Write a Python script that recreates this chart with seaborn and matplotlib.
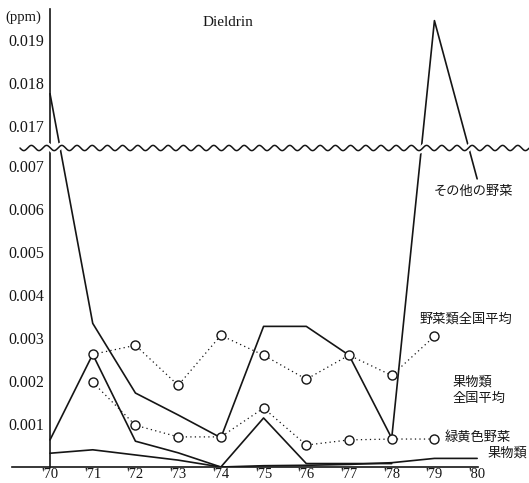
import numpy as np
import pandas as pd
import matplotlib
matplotlib.use("Agg")
import matplotlib.pyplot as plt
import seaborn as sns

sns.set_style("white")
plt.rcParams["font.family"] = ["Liberation Serif", "Noto Sans CJK JP"]

# ---- data (ppm) ----
years = [1970, 1971, 1972, 1973, 1974, 1975, 1976, 1977, 1978, 1979, 1980]
year_labels = ["'70", "'71", "'72", "'73", "'74", "'75", "'76", "'77", "'78", "'79", "'80"]

other_veg = [0.01774, 0.00334, 0.00172, 0.00121, 0.00068, 0.00327, 0.00327, 0.00260, 0.00067, 0.01944, 0.00670]

veg_nat_years = [1971, 1972, 1973, 1974, 1975, 1976, 1977, 1978, 1979]
veg_nat_avg = [0.00262, 0.00283, 0.00190, 0.00306, 0.00260, 0.00204, 0.00260, 0.00213, 0.00304]

gy_years = [1971, 1972, 1973, 1974, 1975, 1976, 1977, 1978, 1979]
green_yellow = [0.00197, 0.00097, 0.00070, 0.00070, 0.00137, 0.00051, 0.00063, 0.00065, 0.00065]

fruit_nat_years = [1970, 1971, 1972, 1973, 1974, 1975, 1976, 1977, 1978]
fruit_nat_avg = [0.00063, 0.00262, 0.00060, 0.00033, 0.0, 0.00114, 0.00008, 0.00008, 0.00008]

fruit = [0.00032, 0.00040, 0.00028, 0.00016, 0.0, 0.00003, 0.00004, 0.00006, 0.00010, 0.00020, 0.00020]

yticks = [0.001, 0.002, 0.003, 0.004, 0.005, 0.006, 0.007, 0.017, 0.018, 0.019]

# ---- broken y scale: 0.00742 .. 0.01648 is cut out ----
LOW_BREAK = 0.00742
HIGH_BREAK = 0.01648
GAP = HIGH_BREAK - LOW_BREAK


def fwd(y):
    y = np.asarray(y, dtype=float)
    return np.where(y >= HIGH_BREAK, y - GAP, np.minimum(y, LOW_BREAK))


def inv(y):
    y = np.asarray(y, dtype=float)
    return np.where(y > LOW_BREAK, y + GAP, y)


W, H = 529, 483
AX_TOP, AX_BOTTOM = 9, 467
fig = plt.figure(figsize=(W / 100, H / 100), dpi=100)
ax = fig.add_axes([12 / W, (H - AX_BOTTOM) / H, (478 - 12) / W, (AX_BOTTOM - AX_TOP) / H])
ax.set_yscale("function", functions=(fwd, inv))

ink = "#151515"

df_other = pd.DataFrame({"year": years, "ppm": other_veg})
df_fruit = pd.DataFrame({"year": years, "ppm": fruit})
df_fnat = pd.DataFrame({"year": fruit_nat_years, "ppm": fruit_nat_avg})
df_vnat = pd.DataFrame({"year": veg_nat_years, "ppm": veg_nat_avg})
df_gy = pd.DataFrame({"year": gy_years, "ppm": green_yellow})

solid_kw = dict(color=ink, linewidth=1.2, estimator=None, legend=False)
sns.lineplot(data=df_other, x="year", y="ppm", ax=ax, **solid_kw)
sns.lineplot(data=df_fnat, x="year", y="ppm", ax=ax, **solid_kw)
sns.lineplot(data=df_fruit, x="year", y="ppm", ax=ax, **solid_kw)

dot_kw = dict(color=ink, linewidth=0.9, estimator=None, legend=False,
              marker="o", markersize=6.5, markerfacecolor="white",
              markeredgecolor=ink, markeredgewidth=1.0, dashes=False)
for d in (df_vnat, df_gy):
    ln = sns.lineplot(data=d, x="year", y="ppm", ax=ax, **dot_kw).lines[-1]
    ln.set_linestyle((0, (1, 2.6)))

ax.set_xlim(1969.11, 1980.02)
ax.set_ylim(0, 0.01971)
ax.set_xticks(years)
ax.set_xticklabels(year_labels)
ax.set_yticks(yticks)
ax.set_yticklabels([f"{v:.3f}" for v in yticks])
ax.yaxis.set_minor_locator(matplotlib.ticker.NullLocator())
ax.tick_params(axis="both", length=0, colors=ink)
ax.tick_params(axis="y", pad=4, labelsize=11.5)
ax.tick_params(axis="x", pad=1, labelsize=10.5)
ax.set_xlabel("")
ax.set_ylabel("")

for s in ("top", "right"):
    ax.spines[s].set_visible(False)
ax.spines["left"].set_position(("data", 1970))
for s in ("left", "bottom"):
    ax.spines[s].set_color(ink)
    ax.spines[s].set_linewidth(1.2)

# wavy break line across the plot
wx = np.linspace(20, 529, 800)
wy = 148 + 2.6 * np.sin(2 * np.pi * (wx - 20) / 15.2)
fig.add_artist(plt.Line2D(wx / W, 1 - wy / H, transform=fig.transFigure,
                          color="white", linewidth=4.5, zorder=5))
fig.add_artist(plt.Line2D(wx / W, 1 - wy / H, transform=fig.transFigure,
                          color=ink, linewidth=1.1, zorder=6))

# titles and series labels
fig.text(5 / W, 1 - 17 / H, "(ppm)", fontsize=10.5, color=ink, va="center", ha="left")
fig.text(228 / W, 1 - 22 / H, "Dieldrin", fontsize=11, color=ink, va="center", ha="center")

jp = ["Noto Sans CJK JP"]
lab_kw = dict(fontsize=9.5, color=ink, va="center", ha="left", family=jp)
fig.text(434 / W, 1 - 191 / H, "その他の野菜", **lab_kw)
fig.text(420 / W, 1 - 319 / H, "野菜類全国平均", **lab_kw)
fig.text(453 / W, 1 - 382 / H, "果物類", **lab_kw)
fig.text(453 / W, 1 - 398 / H, "全国平均", **lab_kw)
fig.text(445 / W, 1 - 437 / H, "緑黄色野菜", **lab_kw)
fig.text(488 / W, 1 - 453 / H, "果物類", **lab_kw)

fig.savefig("out.png", dpi=100, facecolor="white")
